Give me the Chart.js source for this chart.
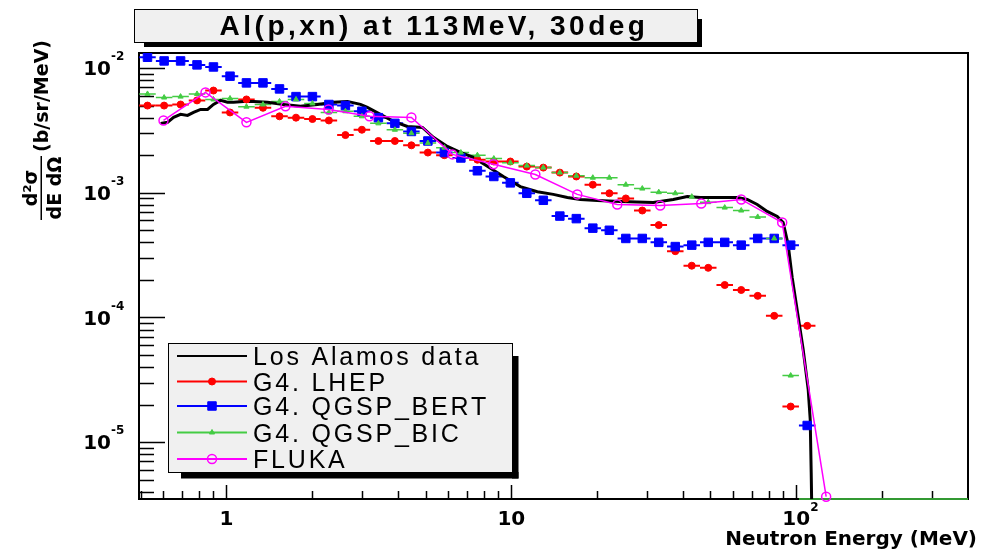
<!DOCTYPE html>
<html lang="en">
<head>
<meta charset="UTF-8">
<title>Al(p,xn) at 113MeV, 30deg</title>
<script src="https://cdn.jsdelivr.net/npm/chart.js@4.4.1/dist/chart.umd.min.js"></script>
<style>
    html, body {
        margin: 0;
        padding: 0;
        background: #ffffff;
    }
    canvas {
        display: block;
    }
</style>
</head>
<body>
<canvas id="chart" width="995" height="555"></canvas>
<script>
    // axis limits
    var X_MIN = 0.493, X_MAX = 401;
    var Y_MIN = 3.5e-6, Y_MAX = 1.32e-2;

    var X_TICKS = [1, 10, 100];
    var X_TICK_TEXT = ['1', '10', '10'];
    var X_TICK_EXP = ['', '', '2'];
    var Y_TICKS = [1e-5, 1e-4, 1e-3, 1e-2];
    var Y_TICK_EXP = ['-5', '-4', '-3', '-2'];

    // bin centres (MeV) shared by the Geant4 histograms, half width in decades
    var BINS = [0.528, 0.604, 0.690, 0.788, 0.900, 1.029, 1.175, 1.343, 1.535, 1.754,
        2.003, 2.288, 2.615, 2.988, 3.414, 3.901, 4.458, 5.093, 5.82, 6.65,
        7.60, 8.68, 9.92, 11.33, 12.95, 14.80, 16.91, 19.32, 22.08, 25.23,
        28.82, 32.93, 37.63, 42.99, 49.12, 56.12, 64.12, 73.27, 83.72, 95.65,
        109.3, 124.9, 142.7, 163.1, 186.3, 212.9, 243.2, 277.9, 317.5, 362.7, 414.5];
    var BIN_HALF = 0.029;

    var LHEP = [0.0050, 0.0050, 0.0051, 0.0055, 0.0066, 0.0044, 0.0056, 0.0048, 0.0041, 0.0040,
        0.0039, 0.0038, 0.0029, 0.0032, 0.0026, 0.0026, 0.0024, 0.0021, 0.0020, 0.0019,
        0.00184, 0.00178, 0.00178, 0.00162, 0.00159, 0.00145, 0.00135, 0.00116, 0.00099, 0.00090,
        0.00072, 0.00055, 0.00034, 0.00026, 0.00025, 0.000182, 0.000166, 0.000149, 0.000103, 0.0000193,
        0.0000857];

    var QGSP_BERT = [0.0122, 0.0114, 0.0114, 0.0106, 0.0102, 0.0086, 0.0076, 0.0076, 0.0068, 0.0059,
        0.0059, 0.0051, 0.0050, 0.0045, 0.0040, 0.0036, 0.0031, 0.0026, 0.0021, 0.0019,
        0.0015, 0.00135, 0.0012, 0.00099, 0.00087, 0.00065, 0.00062, 0.00052, 0.00050, 0.00043,
        0.00043, 0.00040, 0.00037, 0.00038, 0.00040, 0.00040, 0.00038, 0.00043, 0.00043, 0.00038,
        0.0000136];

    var QGSP_BIC = [0.0062, 0.0058, 0.0059, 0.0062, 0.0056, 0.0057, 0.0049, 0.0051, 0.0054, 0.0056,
        0.0052, 0.0044, 0.0045, 0.0041, 0.0036, 0.0032, 0.0030, 0.0025, 0.0023, 0.0021,
        0.0020, 0.00188, 0.00174, 0.00165, 0.00159, 0.00145, 0.00137, 0.00132, 0.00132, 0.00116,
        0.00108, 0.00101, 0.00099, 0.00093, 0.00084, 0.00076, 0.00072, 0.00064, 0.00043, 0.0000342,
        0, 0, 0, 0, 0, 0, 0, 0, 0, 0, 0];

    // measured spectrum
    var LANL_E = [0.587, 0.621, 0.652, 0.690, 0.730, 0.766, 0.811, 0.858, 0.900, 0.953,
        1.008, 1.058, 1.147, 1.244, 1.393, 1.585, 1.818, 2.086, 2.374, 2.658,
        2.953, 3.124, 3.470, 3.855, 4.316, 4.873, 5.325, 5.963, 6.624, 7.358,
        8.238, 9.374, 10.75, 12.34, 14.04, 15.73, 17.47, 20.04, 24.13, 31.49,
        37.02, 41.46, 46.04, 54.12, 62.09, 67.32, 72.98, 79.1, 85.8, 90.0,
        93.7, 96.8, 101.6, 105.8, 110.2, 112.0, 112.9, 113.7];
    var LANL_XS = [0.00360, 0.00367, 0.00402, 0.00425, 0.00417, 0.00441, 0.00466, 0.00466, 0.00511, 0.00550,
        0.00531, 0.00531, 0.00540, 0.00540, 0.00531, 0.00511, 0.00493, 0.00511, 0.00531, 0.00540,
        0.00511, 0.00484, 0.00425, 0.00374, 0.00340, 0.00334, 0.00278, 0.00235, 0.00211, 0.00192,
        0.00163, 0.00135, 0.00112, 0.00102, 0.00097, 0.000917, 0.000884, 0.000868, 0.000852, 0.000836,
        0.000884, 0.000934, 0.000917, 0.000917, 0.000917, 0.000884, 0.000806, 0.000708, 0.000645, 0.000577,
        0.000385, 0.000209, 0.000102, 0.0000553, 0.0000264, 0.0000152, 0.00000569, 0.000002];

    var FLUKA_E = [0.601, 0.844, 1.175, 1.611, 2.280, 3.176, 4.458, 6.209, 8.65, 12.14,
        17.04, 23.54, 33.32, 46.42, 64.12, 89.3, 127.4];
    var FLUKA_XS = [0.00380, 0.00638, 0.00367, 0.00493, 0.00466, 0.00410, 0.00402, 0.00203, 0.00169, 0.00140,
        0.00097, 0.000806, 0.000791, 0.000821, 0.000884, 0.000577, 0.00000365];

    function points(xs, ys) {
        return ys.map(function (v, i) {
            return {x: xs[i], y: v > 0 ? v : null};
        });
    }

    // 1..9 x 10^n inside [lo, hi]
    function logTicks(lo, hi) {
        var out = [];
        for (var e = Math.floor(Math.log10(lo)); e <= Math.ceil(Math.log10(hi)); e++) {
            for (var m = 1; m < 10; m++) {
                var v = m * Math.pow(10, e);
                if (v >= lo && v <= hi) out.push({v: v, major: m === 1});
            }
        }
        return out;
    }

    function setSpacing(ctx, s) {
        if ('letterSpacing' in ctx) ctx.letterSpacing = s;
    }

    function shadowBox(ctx, x, y, w, h, t) {
        ctx.fillStyle = '#000';
        ctx.fillRect(x + 2 * t, y + h, w - t, t);
        ctx.fillRect(x + w, y + 2 * t, t, h - t);
        ctx.fillStyle = '#f0f0f0';
        ctx.fillRect(x, y, w, h);
        ctx.strokeStyle = '#000';
        ctx.lineWidth = 1;
        ctx.strokeRect(x + 0.5, y + 0.5, w, h);
    }

    var rootStyle = {
        id: 'rootStyle',
        beforeDatasetsDraw: function (chart) {
            var ctx = chart.ctx, a = chart.chartArea;
            var sx = chart.scales.x, sy = chart.scales.y;
            ctx.save();

            ctx.strokeStyle = '#000';
            ctx.lineWidth = 2;
            ctx.strokeRect(a.left, a.top, a.right - a.left, a.bottom - a.top);

            // inward ticks
            ctx.lineWidth = 1.5;
            ctx.beginPath();
            logTicks(Y_MIN, Y_MAX).forEach(function (t) {
                var py = Math.round(sy.getPixelForValue(t.v)) + 0.5;
                ctx.moveTo(a.left, py);
                ctx.lineTo(a.left + (t.major ? 26 : 15), py);
            });
            logTicks(X_MIN, X_MAX).forEach(function (t) {
                var px = Math.round(sx.getPixelForValue(t.v)) + 0.5;
                if (px > a.right - 4) return;
                ctx.moveTo(px, a.bottom);
                ctx.lineTo(px, a.bottom - (t.major ? 14 : 8));
            });
            ctx.stroke();

            // tick labels
            ctx.fillStyle = '#000';
            ctx.textBaseline = 'middle';
            Y_TICKS.forEach(function (v, i) {
                var py = sy.getPixelForValue(v);
                ctx.font = 'bold 20px "DejaVu Sans"';
                ctx.textAlign = 'right';
                ctx.fillText('10', 111, py + 2);
                ctx.font = 'bold 12px "DejaVu Sans"';
                ctx.textAlign = 'left';
                ctx.fillText(Y_TICK_EXP[i], 111, py - 11);
            });
            X_TICKS.forEach(function (v, i) {
                var px = sx.getPixelForValue(v);
                ctx.font = 'bold 20px "DejaVu Sans"';
                ctx.textAlign = 'center';
                ctx.fillText(X_TICK_TEXT[i], px, 520);
                if (X_TICK_EXP[i]) {
                    ctx.font = 'bold 12px "DejaVu Sans"';
                    ctx.textAlign = 'left';
                    ctx.fillText(X_TICK_EXP[i], px + 14, 508);
                }
            });

            // axis titles
            ctx.font = 'bold 20px "DejaVu Sans"';
            ctx.textAlign = 'right';
            ctx.fillText('Neutron Energy (MeV)', 977, 540);

            ctx.save();
            ctx.translate(0, 188);
            ctx.rotate(-Math.PI / 2);
            ctx.textBaseline = 'alphabetic';
            ctx.font = 'bold 19px "DejaVu Sans"';
            ctx.textAlign = 'center';
            ctx.fillText('d\u00b2\u03c3', 0, 37);
            ctx.fillText('dE d\u03a9', 0, 61);
            ctx.fillRect(-32, 40.5, 64, 1.5);
            ctx.textAlign = 'left';
            ctx.fillText('(b/sr/MeV)', 36, 48);
            ctx.restore();

            // bin-width bars of the Geant4 histograms, empty bins sit on the axis
            ctx.beginPath();
            ctx.rect(a.left, a.top - 3, a.right - a.left, a.bottom - a.top + 6);
            ctx.clip();
            var f = Math.pow(10, BIN_HALF);
            chart.data.datasets.forEach(function (ds) {
                if (!ds.bins) return;
                ctx.strokeStyle = ds.borderColor;
                ctx.lineWidth = ds.barWidth;
                ctx.beginPath();
                ds.bins.forEach(function (v, i) {
                    var py = v > 0 ? sy.getPixelForValue(v) : a.bottom;
                    ctx.moveTo(sx.getPixelForValue(BINS[i] / f), py);
                    ctx.lineTo(sx.getPixelForValue(BINS[i] * f), py);
                });
                ctx.stroke();
            });
            ctx.restore();
        },
        afterDraw: function (chart) {
            var ctx = chart.ctx;
            ctx.save();

            // title pave
            shadowBox(ctx, 134, 9, 563, 33, 5);
            ctx.fillStyle = '#000';
            ctx.font = 'bold 28px "Liberation Sans"';
            setSpacing(ctx, '3.5px');
            ctx.textAlign = 'center';
            ctx.textBaseline = 'alphabetic';
            ctx.fillText('Al(p,xn) at 113MeV, 30deg', 434, 35);

            // legend pave
            shadowBox(ctx, 168, 343, 344, 129, 6.5);
            var rows = [356, 381.5, 406, 432.5, 459];
            chart.data.datasets.forEach(function (ds, i) {
                var y = rows[i];
                ctx.strokeStyle = ds.borderColor;
                ctx.lineWidth = 2;
                ctx.beginPath();
                ctx.moveTo(177, y);
                ctx.lineTo(247, y);
                ctx.stroke();
                if (ds.pointRadius > 0) {
                    ctx.fillStyle = ds.backgroundColor;
                    ctx.lineWidth = ds.pointBorderWidth || 1;
                    Chart.helpers.drawPoint(ctx, {
                        pointStyle: ds.pointStyle,
                        rotation: 0,
                        radius: ds.pointRadius,
                        borderWidth: ds.pointBorderWidth || 1
                    }, 212, y);
                }
                ctx.fillStyle = '#000';
                ctx.font = '25px "Liberation Sans"';
                setSpacing(ctx, '2.8px');
                ctx.textAlign = 'left';
                ctx.fillText(ds.label, 253, y + 9);
            });
            ctx.restore();
        }
    };

    new Chart(document.getElementById('chart'), {
        type: 'scatter',
        data: {
            datasets: [
                {
                    label: 'Los Alamos data',
                    data: points(LANL_E, LANL_XS),
                    showLine: true,
                    borderColor: '#000000',
                    backgroundColor: '#000000',
                    borderWidth: 3,
                    pointRadius: 0,
                    order: 4
                },
                {
                    label: 'G4. LHEP',
                    data: points(BINS, LHEP),
                    bins: LHEP,
                    barWidth: 2,
                    borderColor: '#ff0000',
                    backgroundColor: '#ff0000',
                    pointStyle: 'circle',
                    pointRadius: 3.5,
                    pointBorderWidth: 1,
                    order: 3
                },
                {
                    label: 'G4. QGSP_BERT',
                    data: points(BINS, QGSP_BERT),
                    bins: QGSP_BERT,
                    barWidth: 2,
                    borderColor: '#0000ff',
                    backgroundColor: '#0000ff',
                    pointStyle: 'rect',
                    pointRadius: 6,
                    pointBorderWidth: 1,
                    order: 2
                },
                {
                    label: 'G4. QGSP_BIC',
                    data: points(BINS, QGSP_BIC),
                    bins: QGSP_BIC,
                    barWidth: 1.5,
                    borderColor: '#44cc44',
                    backgroundColor: '#44cc44',
                    pointStyle: 'triangle',
                    pointRadius: 3,
                    pointBorderWidth: 1,
                    order: 1
                },
                {
                    label: 'FLUKA',
                    data: points(FLUKA_E, FLUKA_XS),
                    showLine: true,
                    borderColor: '#ff00ff',
                    backgroundColor: 'rgba(255,255,255,0)',
                    borderWidth: 1.5,
                    pointStyle: 'circle',
                    pointRadius: 4.5,
                    pointBorderWidth: 1.5,
                    clip: false,
                    order: 0
                }
            ]
        },
        options: {
            responsive: false,
            animation: false,
            layout: {padding: {left: 139, top: 53, right: 27, bottom: 56}},
            plugins: {
                legend: {display: false},
                tooltip: {enabled: false}
            },
            scales: {
                x: {type: 'logarithmic', min: X_MIN, max: X_MAX, display: false},
                y: {type: 'logarithmic', min: Y_MIN, max: Y_MAX, display: false}
            }
        },
        plugins: [rootStyle]
    });
</script>
</body>
</html>
